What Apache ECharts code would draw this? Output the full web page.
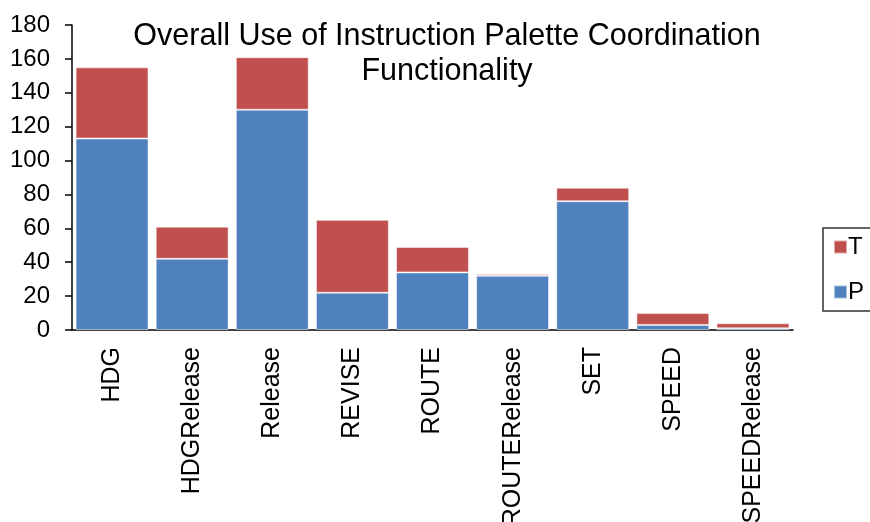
<!DOCTYPE html>
<html>
<head>
<meta charset="utf-8">
<script src="https://cdn.jsdelivr.net/npm/echarts@6/dist/echarts.min.js"></script>
<style>
  html, body { margin: 0; padding: 0; background: #fff; }
  #main { width: 870px; height: 522px; }
</style>
</head>
<body>
<div id="main"></div>
<script>
var myChart = echarts.init(document.getElementById('main'));

// 数据
var categories = ['HDG', 'HDGRelease', 'Release', 'REVISE', 'ROUTE', 'ROUTERelease', 'SET', 'SPEED', 'SPEEDRelease'];
var pValues = [113, 42, 130, 22, 34, 32, 76, 3, 1];
var tValues = [42, 19, 31, 43, 15, 1, 8, 7, 3];
var yTicks = { min: 0, max: 180, interval: 20 };

var font = 'Liberation Sans, Arial, sans-serif';

const option = {
  animation: false,
  textStyle: { fontFamily: font },
  title: {
    text: 'Overall Use of Instruction Palette Coordination\nFunctionality',
    left: 442,
    top: 14,
    textAlign: 'center',
    textStyle: {
      fontFamily: font,
      fontSize: 30.5,
      fontWeight: 'normal',
      color: '#000',
      lineHeight: 35
    }
  },
  legend: {
    data: ['T', 'P'],
    orient: 'vertical',
    left: 823,
    top: 228,
    padding: [7, 40, 7, 10],
    itemGap: 21,
    itemWidth: 13,
    itemHeight: 13,
    icon: 'rect',
    borderColor: '#333',
    borderWidth: 1.5,
    textStyle: { fontFamily: font, fontSize: 24, color: '#000', padding: [0, 0, 0, -4] }
  },
  grid: { left: 72, right: 77, top: 25, bottom: 192, containLabel: false, outerBoundsMode: 'none' },
  xAxis: {
    type: 'category',
    data: categories,
    axisLine: { lineStyle: { color: '#000', width: 1.5 } },
    axisTick: { length: 8, lineStyle: { color: '#000', width: 1.5 } },
    axisLabel: {
      rotate: 90,
      fontSize: 25,
      color: '#000',
      margin: 17,
      fontFamily: font
    }
  },
  yAxis: {
    type: 'value',
    min: yTicks.min,
    max: yTicks.max,
    interval: yTicks.interval,
    splitLine: { show: false },
    axisLine: { show: true, lineStyle: { color: '#000', width: 1.5 } },
    axisTick: { show: true, length: 7, lineStyle: { color: '#000', width: 1.5 } },
    axisLabel: { fontSize: 24, color: '#000', margin: 22, fontFamily: font }
  },
  series: [
    {
      name: 'P',
      type: 'bar',
      stack: 'all',
      data: pValues,
      barCategoryGap: '9%',
      itemStyle: { color: '#4F81BD', borderColor: 'rgba(255,255,255,0.5)', borderWidth: 1 }
    },
    {
      name: 'T',
      type: 'bar',
      stack: 'all',
      data: tValues,
      barCategoryGap: '9%',
      itemStyle: { color: '#C0504D', borderColor: 'rgba(255,255,255,0.5)', borderWidth: 1 }
    }
  ]
};
myChart.setOption(option);
</script>
</body>
</html>
